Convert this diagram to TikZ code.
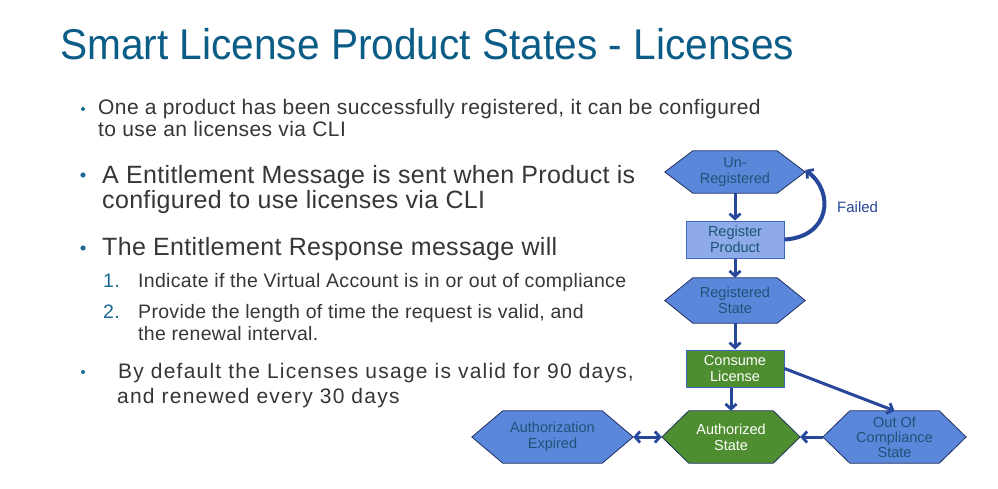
\documentclass[tikz,border=0pt]{standalone}
\usepackage{fontspec}
\setmainfont{Liberation Sans}
\newfontfamily\titlefont[FakeStretch=0.945]{Liberation Sans}
\usetikzlibrary{arrows.meta}
\definecolor{titleblue}{HTML}{0B5C86}
\definecolor{textgray}{HTML}{363636}
\definecolor{bulletblue}{HTML}{1B6A93}
\definecolor{hexblue}{HTML}{5B87DA}
\definecolor{hexborder}{HTML}{1F2F5F}
\definecolor{hextext}{HTML}{1A5578}
\definecolor{rectlight}{HTML}{8EAAE8}
\definecolor{rectborder}{HTML}{3F66C4}
\definecolor{stategreen}{HTML}{4E8E30}
\definecolor{arrowblue}{HTML}{27479A}
\pgfdeclarelayer{bg}
\pgfdeclarelayer{paper}
\pgfsetlayers{paper,bg,main}
\tikzset{
  hexbox/.style={inner sep=0pt, align=center, text=hextext, font=\fontsize{14.5}{16}\selectfont},
  rectbox/.style={draw=rectborder, line width=1pt, inner sep=0pt, align=center, font=\fontsize{14.5}{16}\selectfont},
  conn/.style={draw=arrowblue, line width=3pt, -{Straight Barb[length=5pt,width=11pt,line width=2.8pt]}},
  conn2/.style={draw=arrowblue, line width=3pt, {Straight Barb[length=5pt,width=11pt,line width=2.8pt]}-{Straight Barb[length=5pt,width=11pt,line width=2.8pt]}},
  bodytext/.style={anchor=base west, inner sep=0pt, text=textgray},
}
% #1 node name, #2 inset, #3 fill colour
\newcommand{\hexshape}[3]{%
  \begin{pgfonlayer}{bg}
  \filldraw[fill=#3, draw=hexborder, line width=0.8pt]
    (#1.west) -- ([xshift=#2]#1.north west) -- ([xshift=-#2]#1.north east) -- (#1.east)
    -- ([xshift=-#2]#1.south east) -- ([xshift=#2]#1.south west) -- cycle;
  \end{pgfonlayer}}
\newcommand{\smalltxt}{\fontsize{21}{24}\selectfont\addfontfeature{LetterSpace=2}}
\newcommand{\widetxt}{\fontsize{21}{24}\selectfont\addfontfeature{LetterSpace=5.8}}
\newcommand{\bigtxt}{\fontsize{25}{30}\selectfont\addfontfeature{LetterSpace=1.3}}
\newcommand{\numtxt}{\fontsize{19.5}{24}\selectfont\addfontfeature{LetterSpace=1.6}}
\begin{document}
\begin{tikzpicture}[x=1pt,y=-1pt]
\begin{pgfonlayer}{paper}
\fill[white] (0,0) rectangle (998,489);
\end{pgfonlayer}
\useasboundingbox (0,0) rectangle (998,489);

% title
\node[anchor=base west, inner sep=0pt, text=titleblue] (title) at (60,60)
  {\titlefont\fontsize{43}{50}\selectfont Smart License Product States - Licenses};

% bullets
\fill[bulletblue] (83,109) circle (2);
\fill[bulletblue] (83,175) circle (2.6);
\fill[bulletblue] (83,248) circle (2.6);
\fill[bulletblue] (83,372) circle (2);

\node[bodytext] (b1a) at (98,115) {\smalltxt One a product has been successfully registered, it can be configured};
\node[bodytext] (b1b) at (98,137) {\smalltxt to use an licenses via CLI};
\node[bodytext] (b2a) at (102,184) {\bigtxt A Entitlement Message is sent when Product is};
\node[bodytext] (b2b) at (102,208) {\bigtxt configured to use licenses via CLI};
\node[bodytext] (b3) at (102,255) {\bigtxt The Entitlement Response message will};
\node[bodytext, text=bulletblue] (n1) at (103,287) {\numtxt 1.};
\node[bodytext] (i1) at (138,287) {\numtxt Indicate if the Virtual Account is in or out of compliance};
\node[bodytext, text=bulletblue] (n2) at (103,318) {\numtxt 2.};
\node[bodytext] (i2a) at (138,318) {\numtxt Provide the length of time the request is valid, and};
\node[bodytext] (i2b) at (138,340) {\numtxt the renewal interval.};
\node[bodytext] (b4a) at (118,378) {\widetxt By default the Licenses usage is valid for 90 days,};
\node[bodytext] (b4b) at (117,403) {\widetxt and renewed every 30 days};

% diagram nodes
\node[hexbox, minimum width=140pt, minimum height=42pt] (ur) at (735,172) {Un-\\Registered};
\hexshape{ur}{28pt}{hexblue}
\node[rectbox, fill=rectlight, text=hextext, minimum width=98pt, minimum height=37pt] (rp) at (735,239.5) {Register\\Product};
\node[hexbox, minimum width=140pt, minimum height=45pt] (rs) at (735,300.5) {Registered\\State};
\hexshape{rs}{28pt}{hexblue}
\node[rectbox, fill=stategreen, text=white, minimum width=98pt, minimum height=37pt] (cl) at (735,368.5) {Consume\\License};
\node[hexbox, text=white, minimum width=138pt, minimum height=52pt] (as) at (731,437) {Authorized\\State};
\hexshape{as}{27pt}{stategreen}
\node[hexbox, minimum width=161pt, minimum height=52pt] (ae) at (552.5,437) {Authorization\\Expired};
\hexshape{ae}{31pt}{hexblue}
\node[hexbox, font=\fontsize{14.5}{15}\selectfont, minimum width=143pt, minimum height=52pt] (ooc) at (894.5,437) {Out Of\\Compliance\\State};
\hexshape{ooc}{27pt}{hexblue}

% connectors
\draw[conn] (ur.south) -- (rp.north);
\draw[conn] (rp.south) -- (rs.north);
\draw[conn] (rs.south) -- (cl.north);
\draw[conn] (cl.south -| as.north) -- (as.north);
\draw[conn] (cl.east) -- (ooc.north);
\draw[conn] (ooc.west) -- (as.east);
\draw[conn2] (ae.east) -- (as.west);
\draw[conn, line width=4pt] (rp.east) .. controls (830,237) and (835,192) .. ([yshift=2pt]ur.east);
\node[anchor=base west, inner sep=0pt, text=arrowblue, font=\fontsize{15}{18}\selectfont] (failed) at (837,212) {Failed};
\end{tikzpicture}
\end{document}
